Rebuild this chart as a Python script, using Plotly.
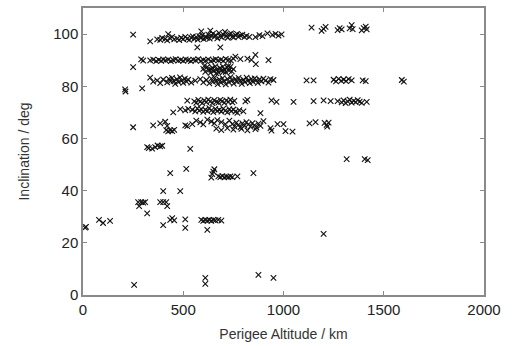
import plotly.graph_objects as go

# Perigee altitude (km) and inclination (deg), grouped by visible band
band100_alt = [250, 335, 370, 385, 395, 410, 420, 425, 435, 445, 455, 470, 480, 490, 500, 510, 520, 530, 540, 548,
               555, 565, 572, 580, 588, 590, 595, 602, 610, 618, 625, 632, 635, 640, 648, 655, 662, 670, 678, 685,
               692, 700, 708, 715, 722, 730, 738, 745, 752, 760, 768, 775, 785, 795, 805, 815, 830, 860, 880, 895,
               920, 945, 960, 975, 990, 570, 685]
band100_inc = [99.8, 97.2, 98.0, 97.8, 98.5, 98.2, 97.6, 100.0, 98.4, 98.9, 98.0, 98.3, 97.7, 98.6, 98.1, 98.9, 98.3, 97.8, 98.6, 99.1,
               98.2, 98.8, 97.9, 99.2, 98.5, 101.0, 99.5, 98.1, 99.0, 98.6, 99.8, 98.3, 101.3, 99.4, 100.2, 98.9, 99.6, 98.4, 100.5, 99.1,
               98.7, 99.8, 100.8, 99.3, 98.6, 99.9, 100.3, 99.0, 98.7, 99.6, 100.1, 98.9, 99.5, 99.8, 98.8, 99.3, 98.9, 98.8, 99.6, 99.2,
               100.3, 99.7, 100.1, 99.4, 99.9, 94.9, 94.9]

band102_alt = [1140, 1190, 1200, 1210, 1270, 1280, 1290, 1330, 1340, 1345, 1390, 1400, 1410, 1415]
band102_inc = [102.5, 101.2, 102.0, 102.8, 101.5, 102.3, 101.8, 102.2, 103.4, 101.9, 101.4, 102.3, 102.9, 101.8]

band90_alt = [290, 300, 335, 350, 365, 378, 390, 400, 412, 425, 438, 450, 462, 475, 488, 500, 512, 525, 538, 550,
              562, 575, 588, 600, 612, 625, 638, 650, 662, 675, 688, 700, 712, 725, 738, 750, 760, 785, 820, 840,
              860, 862, 925, 250]
band90_inc = [90.3, 89.8, 89.9, 90.2, 89.6, 90.1, 89.7, 90.3, 89.9, 90.2, 89.6, 90.0, 90.4, 89.8, 90.1, 89.7, 90.3, 90.0, 89.6, 90.2,
              89.9, 90.4, 89.7, 90.1, 89.8, 90.3, 89.6, 90.0, 90.4, 89.9, 90.2, 89.7, 90.5, 90.0, 89.8, 90.6, 91.4, 90.4, 90.6, 90.1,
              92.0, 88.5, 90.0, 87.3]

band86_alt = [600, 610, 620, 628, 636, 645, 652, 660, 668, 675, 683, 690, 698, 705, 712, 720, 728, 735, 742, 750,
              605, 640, 665, 700, 725]
band86_inc = [86.7, 85.5, 87.4, 86.3, 85.1, 87.1, 85.8, 87.6, 86.4, 85.3, 87.0, 85.9, 87.5, 86.5, 85.4, 87.2, 86.0, 87.4, 85.7, 86.6,
              87.8, 86.4, 85.0, 85.6, 87.7]

band82_alt = [335, 350, 370, 385, 400, 420, 428, 436, 444, 452, 460, 468, 476, 484, 492, 500, 508, 516, 524, 540,
              560, 585, 600, 615, 630, 640, 648, 656, 664, 672, 680, 688, 696, 704, 712, 720, 728, 736, 744, 752,
              760, 768, 776, 784, 792, 800, 808, 816, 824, 832, 840, 848, 856, 864, 872, 880, 890, 900, 910, 925,
              935, 950, 1115, 1150, 1250, 1262, 1275, 1288, 1300, 1312, 1325, 1340, 1395, 1410, 1590, 1600,
              210, 212, 295]
band82_inc = [83.3, 81.8, 82.3, 81.2, 82.6, 81.5, 82.8, 81.9, 83.2, 82.1, 80.9, 82.7, 81.6, 83.4, 82.2, 81.3, 82.9, 81.8, 82.5, 81.4,
              82.2, 82.7, 81.5, 82.4, 81.1, 82.9, 81.7, 83.3, 82.1, 80.8, 82.6, 81.4, 83.1, 82.0, 80.7, 82.8, 81.5, 83.5, 82.3, 81.0,
              82.7, 81.8, 83.2, 82.1, 80.9, 82.5, 81.6, 83.3, 82.2, 81.2, 82.8, 81.7, 83.0, 82.3, 81.3, 82.6, 81.9, 82.9, 82.2, 81.4,
              82.7, 82.4, 82.3, 82.3, 82.5, 81.9, 82.8, 82.1, 82.6, 82.0, 82.7, 82.3, 82.3, 82.0, 82.4, 81.8,
              78.8, 78.0, 79.2]

band74_alt = [520, 555, 565, 575, 585, 595, 605, 615, 625, 635, 645, 655, 665, 675, 685, 695, 705, 715, 725, 735,
              745, 755, 810, 820, 940, 965, 1050, 1150, 1200, 1235, 1270, 1290, 1300, 1310, 1320, 1330, 1340, 1350, 1360, 1370,
              1380, 1390, 1415]
band74_inc = [74.5, 74.2, 73.6, 74.8, 74.1, 73.5, 74.6, 73.9, 74.9, 74.2, 73.5, 74.7, 74.0, 73.7, 74.8, 74.3, 73.6, 74.6, 74.0, 74.9,
              73.8, 74.4, 74.2, 74.8, 74.6, 74.0, 74.0, 74.3, 74.6, 74.3, 74.3, 73.8, 74.6, 73.5, 74.2, 74.9, 73.7, 74.4, 73.9, 74.7,
              74.1, 73.6, 74.0]

band71_alt = [450, 485, 510, 525, 545, 560, 570, 580, 590, 600, 610, 620, 630, 640, 650, 660, 670, 680, 690, 700,
              710, 720, 730, 740, 750, 760, 770, 780, 800, 885]
band71_inc = [70.0, 71.2, 70.8, 71.3, 71.0, 70.4, 71.5, 70.7, 71.2, 70.2, 71.0, 70.5, 71.6, 70.8, 70.1, 71.3, 70.6, 71.0, 70.3, 71.4,
              70.7, 70.0, 71.2, 70.5, 71.1, 70.3, 69.8, 70.9, 70.4, 69.7]

band65_alt = [250, 350, 385, 410, 420, 415, 425, 435, 445, 455, 510, 520, 545, 565, 585, 600, 620, 640, 655, 670,
              690, 710, 730, 665, 690, 720, 750, 790, 820, 860, 745, 755, 765, 775, 785, 795, 805, 815, 825, 835,
              845, 855, 865, 875, 885, 900, 935, 940, 970, 1000, 1010, 1045, 1130, 1160, 1205, 1215, 1225, 1218]
band65_inc = [64.3, 65.0, 65.8, 66.4, 64.8, 63.2, 62.7, 63.1, 62.8, 63.3, 65.0, 64.7, 65.5, 66.8, 66.2, 65.4, 67.2, 66.5, 65.8, 67.0,
              66.3, 65.5, 66.8, 63.8, 63.2, 64.0, 63.4, 63.7, 63.1, 63.6, 65.5, 64.6, 66.1, 65.2, 64.3, 65.8, 64.9, 66.3, 65.4, 64.5,
              65.9, 65.0, 64.2, 65.7, 64.8, 66.6, 64.0, 63.0, 65.5, 65.5, 62.8, 62.6, 65.8, 66.3, 66.0, 65.2, 66.1, 64.5]

band57_alt = [320, 328, 345, 360, 372, 385, 395, 535]
band57_inc = [56.7, 56.3, 56.1, 56.7, 57.3, 57.0, 57.2, 56.0]

low_alt = [435, 515, 400, 485, 275, 290, 300, 310, 280, 320, 385, 400, 415, 420, 435, 445, 455, 400, 510, 510,
           80, 100, 135, 15, 10, 255, 640, 645, 650, 655, 675, 685, 695, 705, 715, 725, 735, 745, 770, 850,
           590, 600, 610, 620, 630, 640, 650, 660, 675, 690, 620, 610, 610, 875, 950, 1315, 1405, 1420, 1200]
low_inc = [46.7, 48.3, 39.8, 39.8, 35.6, 35.6, 35.4, 35.6, 34.1, 31.3, 35.6, 35.6, 35.6, 34.1, 28.8, 29.5, 28.6, 26.8, 29.0, 25.7,
           28.8, 27.6, 28.4, 26.1, 25.8, 3.9, 45.0, 46.3, 47.3, 48.2, 45.5, 45.2, 45.6, 45.1, 45.4, 45.2, 45.5, 45.2, 45.5, 46.7,
           28.8, 28.4, 28.8, 28.5, 28.8, 28.4, 28.8, 28.6, 28.8, 28.5, 25.0, 6.6, 4.3, 7.7, 6.6, 52.1, 52.1, 51.7, 23.4]

x_ticks = [0, 500, 1000, 1500, 2000]
y_ticks = [0, 20, 40, 60, 80, 100]

alt = (band100_alt + band102_alt + band90_alt + band86_alt + band82_alt + band74_alt
       + band71_alt + band65_alt + band57_alt + low_alt)
inc = (band100_inc + band102_inc + band90_inc + band86_inc + band82_inc + band74_inc
       + band71_inc + band65_inc + band57_inc + low_inc)

fig = go.Figure()
fig.add_trace(go.Scatter(
    x=alt, y=inc, mode="markers",
    marker=dict(symbol="x-thin", size=5.5, line=dict(width=1.1, color="#111111"), color="#111111"),
    showlegend=False, hoverinfo="skip",
))

font_family = "Liberation Sans, Arial, Helvetica, sans-serif"
axis_common = dict(
    showline=True, linecolor="#8a8a8a", linewidth=1.5, mirror="ticks",
    ticks="inside", ticklen=4, tickcolor="#8a8a8a", tickwidth=1,
    showgrid=False, zeroline=False,
    tickfont=dict(family=font_family, size=15, color="#222222"),
)
fig.update_xaxes(range=[0, 2000], tickvals=x_ticks, ticktext=[str(v) for v in x_ticks],
                 title=dict(text="Perigee Altitude / km", font=dict(family=font_family, size=14, color="#333333"), standoff=12),
                 **axis_common)
fig.update_yaxes(range=[0, 110], tickvals=y_ticks, ticktext=[str(v) for v in y_ticks],
                 title=dict(text="Inclination / deg", font=dict(family=font_family, size=14, color="#333333"), standoff=20),
                 **axis_common)
fig.update_layout(
    width=512, height=346,
    margin=dict(l=83, r=28, t=6, b=51),
    paper_bgcolor="white", plot_bgcolor="white",
)
fig.write_html("out.html")
